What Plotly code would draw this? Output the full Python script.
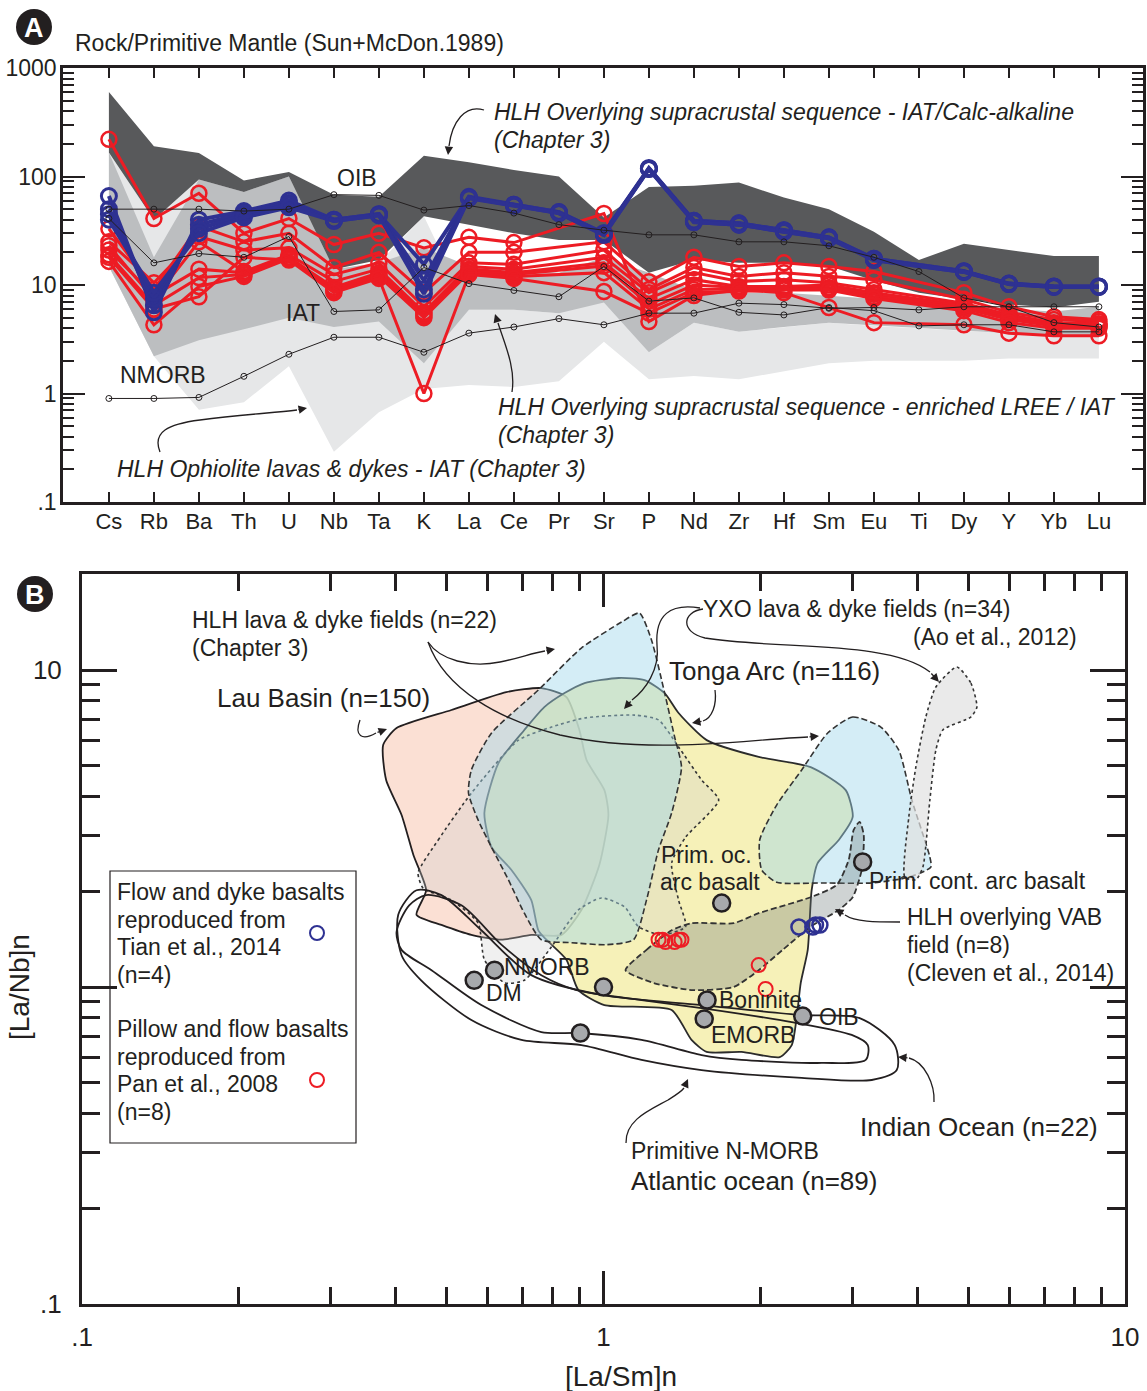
import plotly.graph_objects as go

W, H = 1147, 1391
FONT = "Liberation Sans, Arial, Helvetica, sans-serif"
TXT = "#231f20"

# ---------------- Panel A data (Rock / Primitive Mantle) ----------------
elements = ["Cs", "Rb", "Ba", "Th", "U", "Nb", "Ta", "K", "La", "Ce", "Pr", "Sr",
            "P", "Nd", "Zr", "Hf", "Sm", "Eu", "Ti", "Dy", "Y", "Yb", "Lu"]

# HLH Overlying supracrustal sequence - IAT/Calc-alkaline (dark field)
dark_hi = [600, 190, 165, 92, 110, 68, 65, 155, 135, 115, 100, 42, 80, 82, 88, 64, 50, 31, 17, 24, 21, 18.5, 18.5]
dark_lo = [166, 40, 94, 72, 100, 14, 17, 43, 36, 30, 26, 26, 13, 17, 16, 16, 15, 11, 8.5, 7.4, 6.6, 6.2, 7]
# HLH Overlying supracrustal sequence - enriched LREE / IAT (medium field)
med_hi = [166, 18, 94, 72, 100, 14, 16, 22, 15, 14, 13, 18, 13, 9, 8.5, 8.5, 8, 7.5, 7, 6.5, 6, 5.7, 6.3]
med_lo = [14.8, 2.2, 3.1, 3.9, 5.0, 4.1, 4.6, 1.9, 5.9, 5.9, 5.5, 6.9, 2.4, 4.5, 3.7, 4.1, 4.5, 4.2, 4.0, 3.8, 3.6, 3.4, 3.3]
# HLH Ophiolite lavas & dykes - IAT (light field)
light_hi = [166, 40, 94, 72, 100, 14, 16, 43, 5.9, 5.9, 5.5, 12, 2.4, 4.5, 3.7, 4.1, 4.5, 4.2, 4.0, 3.8, 3.6, 3.4, 3.3]
light_lo = [14.8, 2.2, 0.71, 0.83, 1.78, 0.29, 0.67, 1.1, 1.2, 1.15, 1.3, 3.0, 1.35, 1.45, 1.35, 1.6, 1.9, 2.0, 2.0, 2.0, 2.1, 2.1, 2.1]

oib = [50, 50, 50, 48, 50, 68, 67, 49, 54, 46, 36, 32, 29, 29, 25, 25, 23, 18, 13.3, 7.6, 6.3, 4.5, 4.1]
iat = [41, 16, 19.5, 18, 28, 5.7, 5.9, 14.5, 10.3, 8.9, 7.8, 14.8, 7.1, 7.6, 5.6, 5.3, 6.2, 5.8, 4.2, 4.3, 4.3, 3.7, 3.7]
nmorb = [0.9, 0.9, 0.92, 1.44, 2.3, 3.3, 3.3, 2.4, 3.6, 4.1, 4.9, 4.3, 5.5, 5.5, 6.8, 6.6, 6.1, 6.2, 5.9, 6.3, 6.3, 6.3, 6.3]

# Tian et al., 2014 (n=4), Ti not plotted
tian_1 = [66, 5.6, 40, 48, 60, 40, 45, 15.5, 65, 55, 47, 30, 120, 39, 37, 32, 27.5, 17.5, None, 13.4, 10.3, 9.7, 9.7]
tian_2 = [50, 6.5, 36, 46, 57, 40, 45, 11, 64, 55, 47, 30, 118, 39, 37, 32, 27.5, 17.5, None, 13.4, 10.3, 9.7, 9.7]
tian_3 = [45, 7.5, 33, 44, 55, 39, 44, 9.1, 64, 54, 46, 29, 118, 38, 36, 31, 27, 17, None, 13.2, 10.2, 9.6, 9.6]
tian_4 = [40, 8.5, 30, 42, 52, 39, 44, 8.3, 63, 54, 46, 29, 117, 38, 36, 31, 27, 17, None, 13.2, 10.2, 9.6, 9.6]

# Pan et al., 2008 (n=8), Pr and Ti not reported
pan_1 = [220, 41, 70, 30, 41, 23.6, 30, 22, 27.5, 24.6, None, 45.6, 4.6, 8.0, 9.0, 8.5, 6.2, 4.5, None, 4.3, 3.6, 3.4, 3.4]
pan_2 = [33, 9.1, 35, 25, 30, 14.5, 20, 8.5, 20, 20, None, 25, 10.7, 18, 14.8, 16, 14.8, 13.3, None, 8.5, 6.3, 5.1, 4.8]
pan_3 = [25, 10.5, 28, 21, 22, 12.5, 16, 6.3, 16, 15.5, None, 21, 9.1, 14.5, 12, 13, 12, 11.2, None, 7.4, 5.6, 4.8, 4.6]
pan_4 = [23, 7.4, 25, 13.3, 19, 10.8, 14, 5.6, 14.8, 14, None, 18, 8.5, 13, 10.8, 11.2, 10.5, 9.1, None, 6.8, 5.3, 4.5, 4.4]
pan_5 = [21, 8, 14, 13, 18, 9.5, 13, 5.4, 14, 13, None, 16, 7.5, 11.2, 9.7, 9.7, 10, 8.5, None, 6.5, 5.2, 4.4, 4.3]
pan_6 = [19, 6.5, 11.7, 12.5, 18, 9.1, 12.5, 5.2, 13.5, 12.5, None, 15, 6.6, 10, 9.5, 9.5, 9.5, 8.2, None, 6.3, 5.0, 4.3, 4.2]
pan_7 = [16.5, 4.3, 9.7, 12, 17.5, 8.8, 12, 5.0, 13, 12, None, 13, 6.0, 9.1, 9.2, 9.3, 9.2, 7.8, None, 6.1, 4.8, 4.2, 4.1]
pan_8 = [18, 6, 7.8, 18, 17, 8.5, 11.5, 1.0, 12.5, 11.5, None, 8.7, 5.5, 8.5, 8.8, 9.0, 9, 7.5, None, 5.8, 4.5, 4.0, 4.0]

# ---------------- Panel B data ([La/Sm]n vs [La/Nb]n) ----------------
lau_lasm = [0.378, 0.401, 0.511, 0.651, 0.760, 0.849, 0.899, 0.928, 1.004, 1.022, 0.982, 0.907, 0.831, 0.727, 0.637, 0.558, 0.489, 0.438, 0.457, 0.432, 0.410, 0.383]
lau_lanb = [5.80, 6.56, 7.48, 8.52, 8.77, 8.22, 6.47, 5.20, 4.18, 3.49, 2.43, 1.75, 1.46, 1.46, 1.41, 1.46, 1.57, 1.69, 2.02, 2.61, 3.49, 4.50]

tonga_lasm = [0.750, 0.727, 0.666, 0.610, 0.591, 0.629, 0.705, 0.770, 0.842, 0.920, 1.069, 1.199, 1.31, 1.393, 1.577, 1.984, 2.496, 2.914, 3.005, 2.826, 2.574, 2.507, 2.464, 2.389, 2.347, 2.296, 2.177, 1.840, 1.577, 1.475, 1.351, 1.004, 0.895, 0.849, 0.777]
tonga_lanb = [1.51, 1.88, 2.34, 2.76, 3.54, 5.09, 6.47, 7.64, 8.46, 9.10, 9.44, 9.30, 8.46, 7.32, 6.01, 5.32, 4.94, 4.18, 3.44, 2.91, 2.46, 2.02, 1.31, 1.03, 0.804, 0.656, 0.601, 0.624, 0.624, 0.681, 0.846, 0.877, 0.978, 1.22, 1.41]

hlh_lasm = [1.172, 1.083, 0.907, 0.750, 0.610, 0.558, 0.551, 0.575, 0.610, 0.657, 0.705, 0.760, 0.868, 1.013, 1.142, 1.209, 1.275, 1.351, 1.411, 1.369, 1.31, 1.236]
hlh_lanb = [15.13, 14.17, 11.73, 8.65, 6.33, 4.84, 4.09, 3.36, 2.76, 2.18, 1.71, 1.41, 1.38, 1.36, 1.41, 1.88, 2.71, 3.54, 4.94, 6.15, 8.46, 12.44]

hlh2_lasm = [2.691, 3.005, 3.402, 3.683, 3.902, 4.225, 4.243, 3.850, 3.269, 2.620, 2.148, 2.011, 1.993, 2.148, 2.399]
hlh2_lanb = [6.33, 7.11, 6.61, 5.59, 3.89, 2.57, 2.39, 2.22, 2.13, 2.13, 2.14, 2.34, 2.91, 3.75, 4.84]

yxo_lasm = [0.441, 0.482, 0.558, 0.687, 0.795, 0.920, 1.147, 1.275, 1.393, 1.542, 1.663, 1.437, 1.351, 1.393, 1.437, 1.292, 1.167, 1.097, 0.991, 0.895, 0.795, 0.705, 0.646, 0.591, 0.575, 0.511, 0.451]
yxo_lanb = [2.29, 2.91, 4.09, 6.01, 6.61, 7.06, 7.21, 6.96, 5.72, 4.50, 3.89, 2.97, 2.46, 1.88, 1.55, 1.46, 1.55, 1.79, 1.91, 1.75, 1.34, 1.05, 1.03, 1.22, 1.59, 1.88, 2.05]

yxo2_lasm = [4.760, 5.064, 5.200, 5.064, 4.474, 4.338, 4.225, 4.097, 3.971, 3.783, 3.850, 3.971, 4.150, 4.338]
yxo2_lanb = [10.22, 9.10, 7.64, 7.11, 6.47, 5.59, 3.89, 2.39, 2.18, 2.22, 3.44, 4.94, 7.11, 8.84]

vab_lasm = [1.102, 1.209, 1.351, 1.475, 1.777, 1.984, 2.496, 2.801, 2.953, 3.018, 3.099, 3.155, 3.127, 3.005, 2.826, 2.496, 2.206, 1.984, 1.777, 1.482, 1.247]
vab_lanb = [1.13, 1.31, 1.51, 1.59, 1.59, 1.71, 1.92, 2.10, 2.52, 3.13, 3.32, 3.02, 2.34, 1.92, 1.75, 1.55, 1.31, 1.13, 1.00, 0.978, 1.03]

atl_lasm = [0.401, 0.424, 0.457, 0.534, 0.637, 0.760, 0.888, 1.183, 1.542, 2.296, 2.992, 3.212, 3.183, 2.620, 1.840, 1.542, 1.183, 0.899, 0.760, 0.583, 0.468, 0.410]
atl_lanb = [1.49, 1.81, 1.95, 1.81, 1.36, 1.09, 0.978, 0.910, 0.858, 0.775, 0.706, 0.656, 0.589, 0.576, 0.589, 0.610, 0.681, 0.716, 0.721, 0.877, 1.13, 1.31]

ind_lasm = [0.404, 0.438, 0.489, 0.583, 0.727, 0.991, 1.542, 2.399, 3.099, 3.618, 3.650, 3.269, 2.399, 1.542, 1.183, 0.907, 0.696, 0.558, 0.447, 0.410]
ind_lanb = [1.69, 2.02, 1.95, 1.51, 1.09, 0.944, 0.877, 0.816, 0.798, 0.656, 0.547, 0.509, 0.517, 0.547, 0.589, 0.656, 0.681, 0.787, 1.05, 1.26]

ref_lasm = [1.685, 3.14, 0.618, 0.565, 1.0, 0.903, 1.58, 1.56, 2.41]
ref_lanb = [1.84, 2.48, 1.13, 1.05, 1.0, 0.716, 0.91, 0.793, 0.81]

pan_lasm = [1.275, 1.298, 1.315, 1.369, 1.393, 1.411, 1.984, 2.046]
pan_lanb = [1.41, 1.41, 1.387, 1.387, 1.41, 1.41, 1.173, 0.986]

tian_lasm = [2.37, 2.52, 2.55, 2.60]
tian_lanb = [1.546, 1.546, 1.569, 1.569]

# ---------------- helpers ----------------
def px(x):
    return x / W

def py(y):
    return 1 - y / H

def P(x, y):
    return f"{px(x):.5f},{py(y):.5f}"

fig = go.Figure()

# ---- Panel A fields ----
for hi, lo, col in [(light_hi, light_lo, "#e6e7e8"), (med_hi, med_lo, "#bcbec0"), (dark_hi, dark_lo, "#58595b")]:
    fig.add_trace(go.Scatter(x=elements + elements[::-1], y=hi + lo[::-1], mode="lines",
                             fill="toself", fillcolor=col, line=dict(width=0),
                             hoverinfo="skip", showlegend=False, xaxis="x", yaxis="y"))

for s in [pan_1, pan_2, pan_3, pan_4, pan_5, pan_6, pan_7, pan_8]:
    fig.add_trace(go.Scatter(x=elements, y=s, mode="lines+markers", connectgaps=True,
                             line=dict(color="#ed1c24", width=3),
                             marker=dict(symbol="circle-open", size=15, color="#ed1c24", line=dict(width=2.5)),
                             showlegend=False, xaxis="x", yaxis="y"))
for s in [tian_1, tian_2, tian_3, tian_4]:
    fig.add_trace(go.Scatter(x=elements, y=s, mode="lines+markers", connectgaps=True,
                             line=dict(color="#2e3192", width=4),
                             marker=dict(symbol="circle-open", size=15, color="#2e3192", line=dict(width=3)),
                             showlegend=False, xaxis="x", yaxis="y"))
for s in [oib, iat, nmorb]:
    fig.add_trace(go.Scatter(x=elements, y=s, mode="lines+markers",
                             line=dict(color="#231f20", width=1),
                             marker=dict(symbol="circle-open", size=6, color="#231f20", line=dict(width=1)),
                             showlegend=False, xaxis="x", yaxis="y"))

# ---- Panel B fields ----
def closed(a):
    return list(a) + [a[0]]

fields = [
    (lau_lasm, lau_lanb, "rgba(248,205,185,0.62)", "#231f20", "solid", 1.8),
    (tonga_lasm, tonga_lanb, "rgba(243,236,160,0.75)", "#2b2b2b", "solid", 1.8),
    (yxo_lasm, yxo_lanb, "rgba(205,205,205,0.30)", "#333333", "dot", 1.6),
    (hlh_lasm, hlh_lanb, "rgba(160,215,235,0.45)", "#333333", "6px,3px", 1.6),
    (hlh2_lasm, hlh2_lanb, "rgba(160,215,235,0.45)", "#333333", "6px,3px", 1.6),
    (yxo2_lasm, yxo2_lanb, "rgba(225,225,225,0.70)", "#333333", "dot", 1.6),
    (vab_lasm, vab_lanb, "rgba(110,120,120,0.33)", "#333333", "6px,3px", 1.8),
]
for xs, ys, fc, lc, dash, lw in fields:
    fig.add_trace(go.Scatter(x=closed(xs), y=closed(ys), mode="lines", fill="toself", fillcolor=fc,
                             line=dict(color=lc, width=lw, dash=dash, shape="spline", smoothing=0.6),
                             hoverinfo="skip", showlegend=False, xaxis="x2", yaxis="y2"))
for xs, ys in [(atl_lasm, atl_lanb), (ind_lasm, ind_lanb)]:
    fig.add_trace(go.Scatter(x=closed(xs), y=closed(ys), mode="lines",
                             line=dict(color="#231f20", width=1.8, shape="spline", smoothing=0.8),
                             hoverinfo="skip", showlegend=False, xaxis="x2", yaxis="y2"))

fig.add_trace(go.Scatter(x=ref_lasm, y=ref_lanb, mode="markers",
                         marker=dict(size=17, color="#a7a9ac", line=dict(color="#231f20", width=2.5)),
                         showlegend=False, xaxis="x2", yaxis="y2"))
fig.add_trace(go.Scatter(x=pan_lasm, y=pan_lanb, mode="markers",
                         marker=dict(symbol="circle-open", size=14, color="#ed1c24", line=dict(width=2)),
                         showlegend=False, xaxis="x2", yaxis="y2"))
fig.add_trace(go.Scatter(x=tian_lasm, y=tian_lanb, mode="markers",
                         marker=dict(symbol="circle-open", size=15, color="#2e3192", line=dict(width=2.5)),
                         showlegend=False, xaxis="x2", yaxis="y2"))

# ---------------- axes ----------------
minorA = [m * 10 ** e for e in range(-1, 3) for m in range(2, 10)]
minorBx = [m * 10 ** e for e in range(-1, 1) for m in range(2, 10)]
minorBy = minorBx + [20]

axis_common = dict(showgrid=False, zeroline=False, showline=True, linecolor=TXT, ticks="inside",
                   tickcolor=TXT, automargin=False)

fig.update_layout(
    template="none",
    width=W, height=H, margin=dict(l=0, r=0, t=0, b=0, pad=0, autoexpand=False), autosize=False,
    paper_bgcolor="white", plot_bgcolor="rgba(0,0,0,0)",
    font=dict(family=FONT, color=TXT),
    showlegend=False,
    xaxis=dict(axis_common, domain=[px(63), px(1143)], anchor="y", type="category",
               categoryorder="array", categoryarray=elements, range=[-1.02, 22.98],
               linewidth=2.5, ticklen=10, tickwidth=2, mirror="ticks",
               tickfont=dict(size=22), ticklabelstandoff=-2),
    yaxis=dict(axis_common, domain=[py(502), py(68)], anchor="x", type="log", range=[-1, 3],
               tickvals=[0.1, 1, 10, 100, 1000], ticktext=[".1", "1", "10", "100", "1000"],
               linewidth=2.5, ticklen=22, tickwidth=2, mirror="allticks",
               minor=dict(tickvals=minorA, ticklen=11, tickwidth=2, ticks="inside", tickcolor=TXT),
               tickfont=dict(size=23), ticklabelstandoff=-1),
    xaxis2=dict(axis_common, domain=[px(82), px(1125)], anchor="y2", type="log", range=[-1, 1],
                tickvals=[0.1, 1, 10], ticktext=[".1", "1", "10"],
                linewidth=3, ticklen=33, tickwidth=2.5, mirror="allticks",
                minor=dict(tickvals=minorBx, ticklen=17, tickwidth=2.5, ticks="inside", tickcolor=TXT),
                tickfont=dict(size=26), ticklabelstandoff=8),
    yaxis2=dict(axis_common, domain=[py(1304), py(574)], anchor="x2", type="log", range=[-1, 1.303],
                tickvals=[0.1, 1, 10], ticktext=[".1", "", "10"],
                linewidth=3, ticklen=35, tickwidth=2.5, mirror="allticks",
                minor=dict(tickvals=minorBy, ticklen=18, tickwidth=2.5, ticks="inside", tickcolor=TXT),
                tickfont=dict(size=26), ticklabelstandoff=12),
)

# ---------------- annotations ----------------
ann = []

def T(text, x, y, size=23, anchor="left", italic=False, color=TXT, angle=0, bold=False):
    t = text
    if italic:
        t = "<i>" + t + "</i>"
    if bold:
        t = "<b>" + t + "</b>"
    ann.append(dict(text=t, x=px(x), y=py(y), xref="paper", yref="paper", xanchor=anchor,
                    yanchor="middle", showarrow=False, textangle=angle,
                    font=dict(size=size, color=color, family=FONT)))

# Panel A
T("Rock/Primitive Mantle (Sun+McDon.1989)", 73, 43, 23)
T("OIB", 357, 178, 23, "center")
T("IAT", 303, 313, 23, "center")
T("NMORB", 163, 375, 23, "center")
T("HLH Overlying supracrustal sequence - IAT/Calc-alkaline", 492, 112, 23, italic=True)
T("(Chapter 3)", 492, 140, 23, italic=True)
T("HLH Overlying supracrustal sequence - enriched LREE / IAT", 496, 407, 23, italic=True)
T("(Chapter 3)", 496, 435, 23, italic=True)
T("HLH Ophiolite lavas & dykes - IAT (Chapter 3)", 115, 469, 23, italic=True)

# Panel B
T("HLH lava & dyke fields (n=22)", 190, 620, 23)
T("(Chapter 3)", 190, 648, 23)
T("Lau Basin (n=150)", 215, 698, 26)
T("YXO lava & dyke fields (n=34)", 701, 609, 23)
T("(Ao et al., 2012)", 911, 637, 23)
T("Tonga Arc (n=116)", 667, 671, 26)
T("Prim. oc.", 659, 855, 23)
T("arc basalt", 658, 882, 23)
T("Prim. cont. arc basalt", 867, 881, 23)
T("HLH overlying VAB", 905, 917, 23)
T("field (n=8)", 905, 945, 23)
T("(Cleven et al., 2014)", 905, 973, 23)
T("NMORB", 502, 967, 23)
T("DM", 484, 993, 23)
T("Boninite", 717, 1000, 23)
T("OIB", 817, 1017, 23)
T("EMORB", 709, 1035, 23)
T("Indian Ocean (n=22)", 858, 1127, 26)
T("Primitive N-MORB", 629, 1151, 23)
T("Atlantic ocean (n=89)", 629, 1181, 26)
for i, line in enumerate(["Flow and dyke basalts", "reproduced from", "Tian et al., 2014", "(n=4)"]):
    T(line, 115, 892 + i * 27.7, 23)
for i, line in enumerate(["Pillow and flow basalts", "reproduced from", "Pan et al., 2008", "(n=8)"]):
    T(line, 115, 1029 + i * 27.7, 23)
T("[La/Nb]n", 20, 987, 28, "center", angle=-90)
T("[La/Sm]n", 621, 1376, 28, "center")

T("A", 34, 28, 27, "center", color="white", bold=True)
T("B", 35, 595, 27, "center", color="white", bold=True)

def head(tip, tail):
    ann.append(dict(x=px(tip[0]), y=py(tip[1]), xref="paper", yref="paper", text="",
                    showarrow=True, ax=tail[0] - tip[0], ay=tail[1] - tip[1],
                    arrowhead=2, arrowsize=1.3, arrowwidth=1.3, arrowcolor=TXT, standoff=0))

head((448, 155), (449, 146))
head((495, 314), (498, 323))
head((307, 408), (297, 410))
head((555, 649), (545, 651))
head((819, 736), (808, 737))
head((387, 729), (376, 733))
head((939, 682), (930, 672))
head((624, 709), (632, 700))
head((692, 723), (703, 721))
head((835, 909), (845, 915))
head((898, 1057), (909, 1058))
head((688, 1079), (684, 1088))

fig.update_layout(annotations=ann)

# ---------------- shapes ----------------
curves = [
    "M " + P(484, 110) + " C " + P(465, 104) + " " + P(452, 122) + " " + P(449, 146),
    "M " + P(512, 392) + " C " + P(516, 368) + " " + P(504, 342) + " " + P(498, 323),
    "M " + P(160, 452) + " C " + P(152, 432) + " " + P(168, 424) + " " + P(200, 420)
    + " C " + P(240, 415) + " " + P(270, 413) + " " + P(297, 410),
    "M " + P(428, 642) + " C " + P(440, 660) + " " + P(470, 668) + " " + P(500, 662)
    + " C " + P(520, 658) + " " + P(532, 653) + " " + P(545, 651),
    "M " + P(428, 642) + " C " + P(445, 690) + " " + P(500, 720) + " " + P(560, 735)
    + " C " + P(650, 755) + " " + P(740, 740) + " " + P(808, 737),
    "M " + P(360, 720) + " C " + P(354, 736) + " " + P(362, 741) + " " + P(376, 733),
    "M " + P(703, 609) + " C " + P(682, 612) + " " + P(680, 632) + " " + P(705, 638)
    + " C " + P(780, 650) + " " + P(890, 640) + " " + P(930, 672),
    "M " + P(700, 608) + " C " + P(670, 603) + " " + P(655, 615) + " " + P(657, 645)
    + " C " + P(660, 670) + " " + P(645, 690) + " " + P(632, 700),
    "M " + P(715, 690) + " C " + P(717, 705) + " " + P(712, 718) + " " + P(703, 721),
    "M " + P(900, 922) + " C " + P(875, 922) + " " + P(855, 922) + " " + P(845, 915),
    "M " + P(934, 1102) + " C " + P(935, 1085) + " " + P(925, 1062) + " " + P(909, 1058),
    "M " + P(626, 1143) + " C " + P(625, 1120) + " " + P(650, 1110) + " " + P(668, 1100)
    + " C " + P(676, 1095) + " " + P(681, 1092) + " " + P(684, 1088),
]
shapes = [dict(type="path", path=c, xref="paper", yref="paper",
               line=dict(color=TXT, width=1.3)) for c in curves]

for cx, cy in [(34, 27), (35, 594)]:
    shapes.append(dict(type="circle", xref="paper", yref="paper",
                       x0=px(cx - 18), x1=px(cx + 18), y0=py(cy + 18), y1=py(cy - 18),
                       fillcolor=TXT, line=dict(width=0), layer="below"))

shapes.append(dict(type="rect", xref="paper", yref="paper", x0=px(110), x1=px(356),
                   y0=py(1143), y1=py(871), line=dict(color=TXT, width=1.2)))
for cx, cy, col in [(317, 933, "#2e3192"), (317, 1080, "#ed1c24")]:
    shapes.append(dict(type="circle", xref="paper", yref="paper",
                       x0=px(cx - 7), x1=px(cx + 7), y0=py(cy + 7), y1=py(cy - 7),
                       line=dict(color=col, width=2)))

fig.update_layout(shapes=shapes)

fig.write_html("out.html")
